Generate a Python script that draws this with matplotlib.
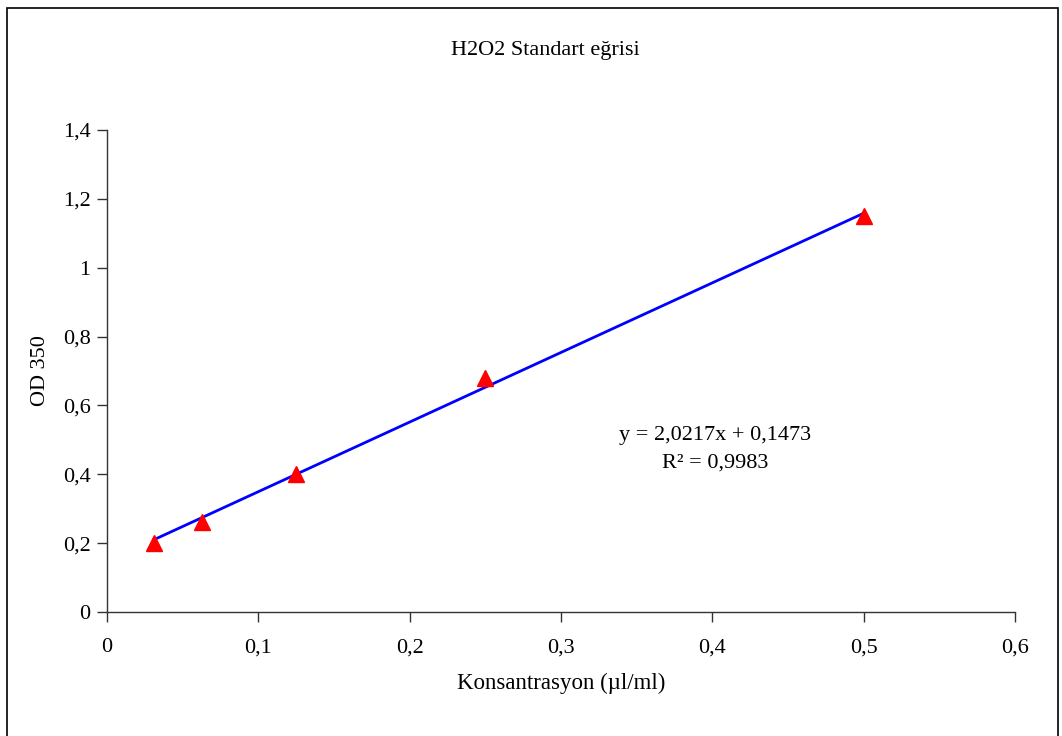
import matplotlib
matplotlib.use('Agg')
import matplotlib.pyplot as plt
import numpy as np
from matplotlib.patches import Rectangle

plt.rcParams['font.family'] = ['Liberation Serif', 'DejaVu Serif']

# data
konsantrasyon = [0.03125, 0.0625, 0.125, 0.25, 0.5]
od350 = [0.20, 0.26, 0.40, 0.68, 1.15]
slope, intercept, r2 = 2.0217, 0.1473, 0.9983

x_ticks = [0, 0.1, 0.2, 0.3, 0.4, 0.5, 0.6]
x_tick_labels = ['0', '0,1', '0,2', '0,3', '0,4', '0,5', '0,6']
y_ticks = [0, 0.2, 0.4, 0.6, 0.8, 1.0, 1.2, 1.4]
y_tick_labels = ['0', '0,2', '0,4', '0,6', '0,8', '1', '1,2', '1,4']

fig = plt.figure(figsize=(10.62, 7.36), dpi=100)
ax = fig.add_axes([0.1008, 0.1685, 0.8549, 0.6549])

# outer chart frame
fig.patches.append(Rectangle((7 / 1062, -0.05), 1051 / 1062, 1 - 8 / 736 + 0.05,
                             transform=fig.transFigure, fill=False,
                             edgecolor='black', linewidth=1.2))

# trend line across the data range
xl = np.array([konsantrasyon[0], konsantrasyon[-1]])
ax.plot(xl, slope * xl + intercept, color='#0000ff', linewidth=2, zorder=2)
ax.plot(konsantrasyon, od350, linestyle='none', marker='^', markersize=11,
        color='#ff0000', markeredgecolor='#ff0000', zorder=3)

ax.set_xlim(0, 0.6)
ax.set_ylim(0, 1.4)
ax.set_xticks(x_ticks)
ax.set_xticklabels(x_tick_labels)
ax.set_yticks(y_ticks)
ax.set_yticklabels(y_tick_labels)

for s in ['top', 'right']:
    ax.spines[s].set_visible(False)
for s in ['left', 'bottom']:
    ax.spines[s].set_color('#333333')
    ax.spines[s].set_linewidth(1)
ax.tick_params(direction='out', length=7, width=1, color='#333333',
               labelsize=16, colors='black')
ax.tick_params(axis='x', pad=12)
ax.tick_params(axis='y', pad=5)

ax.set_xlabel('Konsantrasyon (µl/ml)', fontsize=16.5, labelpad=11)
ax.set_ylabel('OD 350', fontsize=16, labelpad=9)

fig.text(545 / 1062, 1 - 50 / 736, 'H2O2 Standart eğrisi', fontsize=16,
         ha='center', va='center')

fig.text(715 / 1062, 1 - 435 / 736, 'y = 2,0217x + 0,1473', fontsize=16,
         ha='center', va='center')
fig.text(715 / 1062, 1 - 463 / 736, 'R² = 0,9983', fontsize=16,
         ha='center', va='center')

fig.savefig('out.png', dpi=100)
